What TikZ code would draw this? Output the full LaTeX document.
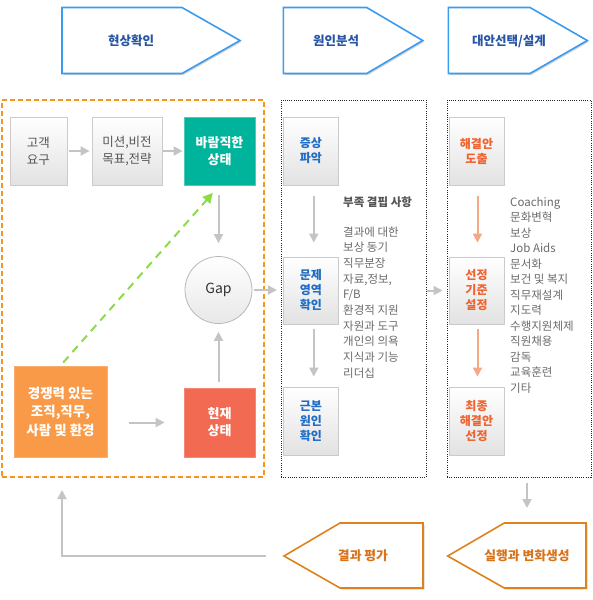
\documentclass[tikz,border=0pt]{standalone}
\usepackage{fontspec}
\setmainfont{Noto Sans CJK KR}
\usetikzlibrary{arrows.meta}
\definecolor{hdrline}{HTML}{3A9BEF}
\definecolor{hdrtxt}{HTML}{2755A5}
\definecolor{c2txt}{HTML}{1F6DC6}
\definecolor{c3txt}{HTML}{EF6330}
\definecolor{botline}{HTML}{DE831C}
\definecolor{bottxt}{HTML}{D9731A}
\definecolor{teal}{HTML}{00B49B}
\definecolor{redbox}{HTML}{F26A52}
\definecolor{orgbox}{HTML}{F89A48}
\definecolor{orgdash}{HTML}{F7931E}
\definecolor{arrgray}{HTML}{C4C4C4}
\definecolor{arrorg}{HTML}{F4A886}
\definecolor{arrgreen}{HTML}{8EDB4A}
\definecolor{boxline}{HTML}{CBCBCB}
\definecolor{boxbot}{HTML}{E2E2E2}
\definecolor{listgray}{HTML}{6A6A6A}
\definecolor{darkgray}{HTML}{555555}
\definecolor{shadowgray}{HTML}{D6D6D6}
\begin{document}
\begin{tikzpicture}[x=1pt,y=-1pt,
  graybox/.style={draw=boxline, line width=0.8pt, top color=white, bottom color=boxbot, inner sep=0pt, align=center},
  colbox/.style={inner sep=0pt, align=center, text=white, font=\fontsize{13}{17}\selectfont\bfseries},
  boxtxt/.style={font=\fontsize{12.5}{17}\selectfont},
  c2box/.style={graybox, minimum width=55pt, minimum height=68pt, text=c2txt, font=\fontsize{12}{15}\selectfont\bfseries},
  c3box/.style={graybox, minimum width=55pt, minimum height=68pt, text=c3txt, font=\fontsize{12}{15}\selectfont\bfseries},
  garrow/.style={draw=arrgray, line width=2pt, -{Triangle[length=9pt,width=9pt]}},
  oarrow/.style={draw=arrorg, line width=2pt, -{Triangle[length=9pt,width=9pt]}},
  hdrshape/.style={draw=hdrline, line width=1.6pt, fill=white, line join=miter},
  botshape/.style={draw=botline, line width=1.6pt, fill=white, line join=miter},
  shadowshape/.style={fill=shadowgray},
  hdrtext/.style={text=hdrtxt, font=\fontsize{12.5}{15}\selectfont\bfseries},
  bottext/.style={text=bottxt, font=\fontsize{12.8}{15}\selectfont\bfseries},
  listtxt/.style={anchor=west, inner sep=0pt, text=listgray, font=\fontsize{11.5}{13}\selectfont, text height=9pt, text depth=2pt},
  dotbox/.style={draw=black!85, line width=0.8pt, dash pattern=on 1pt off 1.2pt, inner sep=0pt},
]
\useasboundingbox (0,0) rectangle (592,600);

% ---------- header pentagons ----------
\fill[shadowshape] (63.5,9) -- (183.5,9) -- (241.5,42) -- (183.5,75) -- (63.5,75) -- cycle;
\draw[hdrshape] (62,7.5) -- (182,7.5) -- (240,40.5) -- (182,73.5) -- (62,73.5) -- cycle;
\node[hdrtext] (h1) at (131,41) {현상확인};

\fill[shadowshape] (284.8,9) -- (368.2,9) -- (424.2,42) -- (368.2,75) -- (284.8,75) -- cycle;
\draw[hdrshape] (283.3,7.5) -- (366.7,7.5) -- (422.7,40.5) -- (366.7,73.5) -- (283.3,73.5) -- cycle;
\node[hdrtext] (h2) at (336,41) {원인분석};

\fill[shadowshape] (449.8,9) -- (531.5,9) -- (588.8,42) -- (531.5,75) -- (449.8,75) -- cycle;
\draw[hdrshape] (448.3,7.5) -- (530,7.5) -- (587.3,40.5) -- (530,73.5) -- (448.3,73.5) -- cycle;
\node[hdrtext] (h3) at (509,41) {대안선택/설계};

% ---------- frames ----------
\node[draw=orgdash, line width=2pt, dash pattern=on 5pt off 3pt, minimum width=262pt, minimum height=377pt, inner sep=0pt] (box1) at (133,288.5) {};
\node[dotbox, minimum width=145pt, minimum height=377pt] (box2) at (353.5,288.5) {};
\node[dotbox, minimum width=144pt, minimum height=377pt] (box3) at (519,288.5) {};

% ---------- column 1 ----------
\node[graybox, boxtxt, text=darkgray, minimum width=57pt, minimum height=68pt] (ka) at (38.5,151) {고객\\요구};
\node[graybox, boxtxt, text=darkgray, minimum width=70pt, minimum height=68pt] (mi) at (127,151) {미션,비전\\목표,전략};
\node[colbox, fill=teal, draw=teal!70!white, line width=0.8pt, minimum width=71pt, minimum height=68pt] (ba) at (219.5,151) {바람직한\\상태};
\node[circle, draw=black!28, line width=0.8pt, top color=white, bottom color=black!9, minimum size=67pt, inner sep=0pt, text=black!80, font=\fontsize{14}{15}\selectfont] (gap) at (218.5,290) {Gap};
\node[colbox, fill=redbox, draw=redbox!80!white, line width=0.8pt, minimum width=71pt, minimum height=69pt] (hy) at (219.5,422.5) {현재\\상태};
\node[colbox, fill=orgbox, draw=orgbox!80!white, line width=0.8pt, minimum width=93pt, minimum height=91pt, font=\fontsize{13.5}{18.5}\selectfont\bfseries] (kj) at (60.5,411.5) {경쟁력 있는\\조직,직무,\\사람 및 환경};

\draw[garrow, shorten <=2pt, shorten >=2pt] (ka.east) -- (mi.east -| mi.west);
\draw[garrow, shorten <=1pt, shorten >=1pt] (mi.east) -- (ba.west);
\draw[garrow, shorten <=10pt, shorten >=13pt] (ba.south -| gap.north) -- (gap.north);
\draw[garrow, shorten <=6pt, shorten >=8pt] (hy.north -| gap.south) -- (gap.south);
\draw[garrow, shorten <=22pt, shorten >=19pt] (kj.east |- hy.west) -- (hy.west);
\draw[draw=arrgreen, line width=2pt, dash pattern=on 8pt off 6pt, -{Triangle[length=10pt,width=10pt]}, shorten <=4pt, shorten >=10pt] (kj.north) -- (ba.south);

% ---------- column 2 ----------
\node[c2box] (js) at (310.8,151) {증상\\파악};
\node[c2box, minimum height=67pt] (mj) at (310.8,290.5) {문제\\영역\\확인};
\node[c2box] (gb) at (310.8,421) {근본\\원인\\확인};
\draw[garrow, shorten <=11pt, shorten >=14pt] ([xshift=3pt]js.south) -- ([xshift=3pt]mj.north);
\draw[garrow, shorten <=5pt, shorten >=10pt] ([xshift=3pt]mj.south) -- ([xshift=3pt]gb.north);
\draw[garrow, shorten <=2pt, shorten >=6pt] (gap.east) -- (mj.west |- gap.east);

\node[anchor=west, inner sep=0pt, text=darkgray, font=\fontsize{11.5}{13}\selectfont\bfseries, text height=9pt, text depth=2pt] (pahead) at (343,203) {부족 결핍 사항};
\foreach \t [count=\i from 0] in {결과에 대한,보상 동기,직무분장,{자료,정보,},F/B,환경적 지원,자원과 도구,개인의 의욕,지식과 기능,리더십}
  \node[listtxt] (pa\i) at (343,232.7+15.65*\i) {\t};

% ---------- column 3 ----------
\node[c3box] (hg) at (476.5,151) {해결안\\도출};
\node[c3box, minimum height=67pt] (sj) at (476.5,290.5) {선정\\기준\\설정};
\node[c3box] (cj) at (476.5,421) {최종\\해결안\\선정};
\draw[oarrow, shorten <=11pt, shorten >=14pt] ([xshift=1pt]hg.south) -- ([xshift=1pt]sj.north);
\draw[oarrow, shorten <=5pt, shorten >=10pt] ([xshift=1pt]sj.south) -- ([xshift=1pt]cj.north);
\draw[garrow, shorten <=1pt, shorten >=4pt] (box2.east |- mj.east) -- (box3.west |- mj.east);

\foreach \t [count=\i from 0] in {Coaching,문화변혁,보상,Job Aids,문서화,보건 및 복지,직무재설계,지도력,수행지원체제,직원채용,감독,교육훈련,기타}
  \node[listtxt] (ds\i) at (510,202.7+15.5*\i) {\t};

% ---------- bottom ----------
\fill[shadowshape] (285.5,557.5) -- (341.5,524.5) -- (424.5,524.5) -- (424.5,589.5) -- (341.5,589.5) -- cycle;
\draw[botshape] (284,556) -- (340,523) -- (423,523) -- (423,588) -- (340,588) -- cycle;
\node[bottext] (ev) at (363,556) {결과 평가};
\coordinate (evtip) at (284,556);

\fill[shadowshape] (449.2,557.5) -- (505.8,524.5) -- (587.5,524.5) -- (587.5,589.5) -- (505.8,589.5) -- cycle;
\draw[botshape] (447.7,556) -- (504.3,523) -- (586,523) -- (586,588) -- (504.3,588) -- cycle;
\node[bottext] (ex) at (527,556) {실행과 변화생성};

\coordinate (dn) at (527,508);
\draw[garrow, shorten <=6pt] (box3.south -| dn) -- (dn);

\coordinate (rt) at (62,477);
\draw[garrow, shorten <=18pt, shorten >=13pt] (evtip) -| (rt);
\end{tikzpicture}
\end{document}
